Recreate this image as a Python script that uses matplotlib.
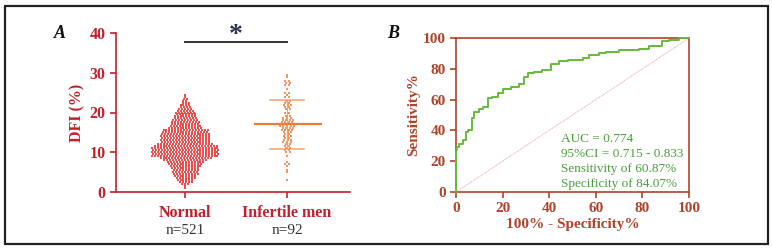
import matplotlib
matplotlib.use("Agg")
import matplotlib.pyplot as plt
from matplotlib.patches import Rectangle
import numpy as np

plt.rcParams['font.family'] = ['Liberation Serif', 'DejaVu Serif']

# ---------------- data ----------------
categories = ["Normal", "Infertile men"]
group_n = ["n=521", "n=92"]

# Normal group: DFI value rows (0.5% bins) and counts per row
normal_dfi = [1.0, 1.5, 2.0, 2.5, 3.0, 3.5, 4.0, 4.5, 5.0, 5.5, 6.0, 6.5, 7.0, 7.5,
              8.0, 8.5, 9.0, 9.5, 10.0, 10.5, 11.0, 11.5, 12.0, 12.5, 13.0,
              13.5, 14.0, 14.5, 15.0, 15.5, 16.0, 16.5, 17.0, 17.5, 18.0,
              18.5, 19.0, 19.5, 20.0, 20.5, 21.0, 21.5, 22.0, 22.5, 23.0,
              23.5, 24.0, 24.5]
normal_cnt = [1, 1, 3, 5, 6, 7, 8, 9, 9, 9, 10, 11, 12, 13,
              15, 18, 23, 23, 23, 23, 23, 22, 19, 17, 17,
              17, 17, 17, 16, 16, 12, 11, 10, 10, 9,
              8, 8, 7, 7, 6, 5, 4, 4, 3, 2,
              2, 1, 1]

# Infertile group
infert_dfi = [3.0, 5.0, 5.5, 6.5, 7.0, 7.5, 9.0, 10.0, 10.5, 11.0, 11.5, 12.0,
              12.5, 13.0, 13.5, 14.0, 14.5, 15.0, 15.5, 16.0, 16.5, 17.0, 17.5,
              18.0, 18.5, 19.0, 20.0, 21.0, 21.5, 22.0, 22.5, 23.0, 24.0, 24.5,
              25.0, 26.0, 27.0, 27.5, 28.0, 29.0, 29.5]
infert_cnt = [1, 1, 1, 1, 2, 1, 1, 2, 2, 2, 2, 2,
              3, 3, 2, 3, 2, 3, 4, 4, 5, 5, 4,
              4, 3, 2, 2, 2, 2, 3, 2, 2, 2, 1,
              2, 1, 2, 2, 2, 1, 1]
infert_mean = 17.0
infert_sd_lo = 10.8
infert_sd_hi = 23.2

# ROC curve points (100% - specificity, sensitivity)
roc_fpr = [0, 0, 0.4, 1.4, 2.9, 4.3, 5.3, 6.9, 7.9, 9.7, 11.4, 13.6, 15.4, 17.9,
           20.3, 23.6, 27.1, 29.3, 31.0, 33.6, 37.0, 40.7, 44.0, 47.9, 54.3,
           57.0, 61.4, 64.3, 70.0, 78.6, 82.9, 88.6, 91.4, 95.7, 98.6, 100]
roc_tpr = [0, 21, 27, 29, 31, 34, 39, 40, 48, 52, 54, 55, 61, 62,
           64, 67, 68, 70, 75, 77, 78, 79, 83, 85, 86,
           87, 89, 90, 91, 92, 93, 95, 98, 99, 100, 100]
roc_text = ["AUC = 0.774", "95%CI = 0.715 - 0.833",
            "Sensitivity of 60.87%", "Specificity of 84.07%"]

# ---------------- figure ----------------
W, H = 772, 250
fig = plt.figure(figsize=(W / 100, H / 100), dpi=100)

# outer frame
fig.patches.append(Rectangle((5 / W, 6 / H), 763 / W, 238 / H, transform=fig.transFigure,
                             fill=False, edgecolor="#222222", linewidth=1.6))

red_ax = "#c4202b"
normal_col = "#ee4d4d"
infert_col = "#f5955c"

# ---- Panel A ----
axA = fig.add_axes([116 / W, 1 - 192 / H, 234 / W, 159 / H])
dx = 0.029
for xc, vals, cnts, col, ddx in [(1, normal_dfi, normal_cnt, normal_col, dx),
                                 (2, infert_dfi, infert_cnt, infert_col, dx * 1.2)]:
    xs, ys = [], []
    for k, (v, c) in enumerate(zip(vals, cnts)):
        offs = (np.arange(c) - (c - 1) / 2) * ddx
        if k % 2 == 1 and c > 1:
            offs = offs + ddx * 0.25
        xs.extend(xc + offs)
        ys.extend([v] * c)
    axA.scatter(xs, ys, s=0.7, marker='s', color=col, linewidths=0, zorder=3)

# mean / SD lines for infertile
axA.plot([1.69, 2.33], [infert_mean] * 2, color="#f07a3a", lw=1.6, zorder=4)
axA.plot([1.83, 2.17], [infert_sd_lo] * 2, color="#f5a070", lw=1.1, zorder=4)
axA.plot([1.83, 2.17], [infert_sd_hi] * 2, color="#f5a070", lw=1.1, zorder=4)
axA.plot([2, 2], [infert_sd_lo, infert_sd_hi], color="#f5a070", lw=0.7, zorder=2)

axA.set_xlim(0.324, 2.618)
axA.set_ylim(0, 40)
axA.set_yticks([0, 10, 20, 30, 40])
axA.set_xticks([1, 2])
axA.set_xticklabels([])
for s in ["top", "right"]:
    axA.spines[s].set_visible(False)
for s in ["left", "bottom"]:
    axA.spines[s].set_color(red_ax)
    axA.spines[s].set_linewidth(1.2)
axA.tick_params(axis='both', colors=red_ax, length=4, width=1.2)
for lab in axA.get_yticklabels():
    lab.set_fontweight('bold')
    lab.set_fontsize(11.5)
    lab.set_color(red_ax)
axA.set_ylabel("DFI (%)", color=red_ax, fontweight='bold', fontsize=11.5, labelpad=3)
for i, (c, n) in enumerate(zip(categories, group_n)):
    axA.text(i + 1, -3.2, c, ha='center', va='top', fontsize=11.5, fontweight='bold',
             color=red_ax, clip_on=False)
    axA.text(i + 1, -8.0, n, ha='center', va='top', fontsize=11, color="#333333",
             clip_on=False)
# significance
axA.plot([1, 2], [37.7, 37.7], color="#333333", lw=1.4, clip_on=False)
axA.text(1.5, 39.3, "*", ha='center', va='center', fontsize=20, fontweight='bold',
         color="#2d2d4d", clip_on=False)
fig.text(60 / W, 1 - 33 / H, "A", fontsize=13, fontweight='bold', fontstyle='italic',
         ha='center', va='center', color="#111111")

# ---- Panel B ----
brown = "#b0432a"
axB = fig.add_axes([456 / W, 1 - 192 / H, 233 / W, 154 / H])
axB.plot([0, 100], [0, 100], color="#f08a9a", lw=0.6, ls=(0, (1, 1)), zorder=2)
axB.plot(roc_fpr, roc_tpr, color="#66bb3c", lw=1.4, zorder=3, clip_on=False,
         drawstyle='steps-pre')
axB.set_xlim(0, 100)
axB.set_ylim(0, 100)
axB.set_xticks([0, 20, 40, 60, 80, 100])
axB.set_yticks([0, 20, 40, 60, 80, 100])
for s in axB.spines.values():
    s.set_color(brown)
    s.set_linewidth(1.2)
axB.tick_params(axis='both', colors=brown, length=4, width=1.2)
for lab in axB.get_xticklabels() + axB.get_yticklabels():
    lab.set_fontweight('bold')
    lab.set_fontsize(11)
    lab.set_color(brown)
axB.set_xlabel("100% - Specificity%", color=brown, fontweight='bold', fontsize=11, labelpad=2)
axB.set_ylabel("Sensitivity%", color=brown, fontweight='bold', fontsize=11, labelpad=2)
for i, t in enumerate(roc_text):
    axB.text(45, 34.3 - i * 9.6, t, ha='left', va='center', fontsize=9.5, color="#4a9e3a")
fig.text(393 / W, 1 - 33 / H, "B", fontsize=13, fontweight='bold', fontstyle='italic',
         ha='center', va='center', color="#111111")

fig.savefig("out.png", dpi=100)
